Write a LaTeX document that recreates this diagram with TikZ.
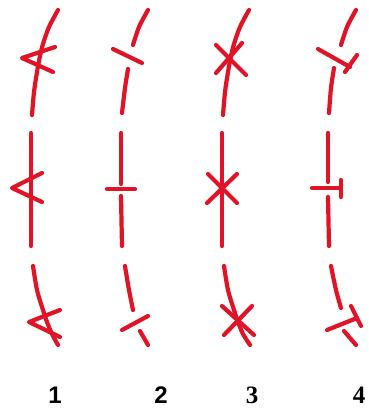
\documentclass[tikz,border=0pt]{standalone}
\usepackage{fontspec}
\setmainfont{Liberation Sans}
\newfontfamily\serifnum{Liberation Serif}
\definecolor{redline}{RGB}{224,20,38}
\begin{document}
\begin{tikzpicture}[x=1pt,y=-1pt,
  rstroke/.style={draw=redline, line width=4.2pt, line cap=round, line join=round},
  numlabel/.style={inner sep=0pt, font=\fontsize{24}{24}\selectfont\bfseries},
  serlabel/.style={inner sep=0pt, font=\fontsize{25}{25}\selectfont\serifnum\bfseries}]
\useasboundingbox (0,0) rectangle (368,416);
% ---------- column 1 : chevrons ----------
\draw[rstroke] plot[smooth] coordinates {(58,10) (49,27) (43,44) (40,56) (37,72) (34,92) (32,115)};
\draw[rstroke] (31,133) -- (31,246);
\draw[rstroke] plot[smooth] coordinates {(33,266) (37,290) (43,310) (47,322) (52,334) (58,345)};
\draw[rstroke] (55,47) -- (22,58) -- (53,72);
\draw[rstroke] (42,173) -- (12,188) -- (42,202);
\draw[rstroke] (60,310) -- (29,322) -- (60,337);
% ---------- column 2 : bars ----------
\draw[rstroke] plot[smooth] coordinates {(148,10) (139,27) (133,45)};
\draw[rstroke] plot[smooth] coordinates {(128,69) (125,88) (122,113)};
\draw[rstroke] (121,133) -- (121,184);
\draw[rstroke] (121,196) -- (122,246);
\draw[rstroke] plot[smooth] coordinates {(125,266) (129,290) (133,310)};
\draw[rstroke] (140,331) -- (148,345);
\draw[rstroke] (113,49) -- (142,63);
\draw[rstroke] (107,189) -- (135,189);
\draw[rstroke] (122,330) -- (148,316);
% ---------- column 3 : crosses ----------
\draw[rstroke] plot[smooth] coordinates {(249,10) (240,27) (234,44) (231,56) (228,72) (225,92) (223,115)};
\draw[rstroke] (222,133) -- (222,246);
\draw[rstroke] plot[smooth] coordinates {(224,266) (228,290) (234,310) (238,322) (243,334) (250,345)};
\draw[rstroke] (216,45) -- (246,75);
\draw[rstroke] (242,43) -- (216,73);
\draw[rstroke] (208,174) -- (237,203);
\draw[rstroke] (237,174) -- (207,203);
\draw[rstroke] (222,306) -- (254,335);
\draw[rstroke] (252,306) -- (224,335);
% ---------- column 4 : capped bars ----------
\draw[rstroke] plot[smooth] coordinates {(356,10) (347,27) (341,45)};
\draw[rstroke] plot[smooth] coordinates {(334,68) (331,88) (329,113)};
\draw[rstroke] (328,133) -- (328,182);
\draw[rstroke] (328,197) -- (329,246);
\draw[rstroke] plot[smooth] coordinates {(331,266) (336,290) (341,308)};
\draw[rstroke] (344,331) -- (356,345);
\draw[rstroke] (318,49) -- (350,67);
\draw[rstroke] (357,55) -- (345,72);
\draw[rstroke] (312,188) -- (341,188);
\draw[rstroke] (341,180) -- (341,197);
\draw[rstroke] (327,330) -- (357,318);
\draw[rstroke] (351,306) -- (361,326);
% ---------- labels ----------
\node[numlabel] (l1) at (55,395) {1};
\node[numlabel] (l2) at (161,395) {2};
\node[serlabel] (l3) at (252,395) {3};
\node[serlabel] (l4) at (359,395) {4};
\end{tikzpicture}
\end{document}
